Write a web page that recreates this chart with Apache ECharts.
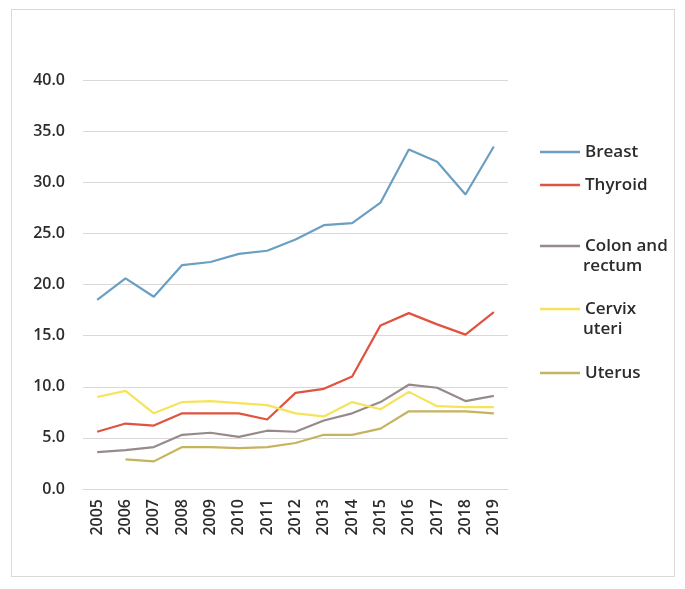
<!DOCTYPE html>
<html>
<head>
<meta charset="utf-8">
<style>
  html, body { margin: 0; padding: 0; background: #fff; }
  #frame {
    position: absolute; left: 11px; top: 9px; width: 664px; height: 568px;
    border: 1px solid #d9d9d9; box-sizing: border-box;
  }
  #chart { position: absolute; left: 0; top: 0; width: 685px; height: 589px; }
</style>
<script src="https://cdn.jsdelivr.net/npm/echarts@6/dist/echarts.min.js"></script>
</head>
<body>
<div id="frame"></div>
<div id="chart"></div>
<script>
const years = ["2005", "2006", "2007", "2008", "2009", "2010", "2011", "2012",
  "2013", "2014", "2015", "2016", "2017", "2018", "2019"];

const breast = [18.5, 20.6, 18.8, 21.9, 22.2, 23.0, 23.3, 24.4, 25.8, 26.0, 28.0, 33.2, 32.0, 28.8, 33.5];
const thyroid = [5.6, 6.4, 6.2, 7.4, 7.4, 7.4, 6.8, 9.4, 9.8, 11.0, 16.0, 17.2, 16.1, 15.1, 17.3];
const colon = [3.6, 3.8, 4.1, 5.3, 5.5, 5.1, 5.7, 5.6, 6.7, 7.4, 8.5, 10.2, 9.9, 8.6, 9.1];
const cervix = [9.0, 9.6, 7.4, 8.5, 8.6, 8.4, 8.2, 7.4, 7.1, 8.5, 7.8, 9.5, 8.1, 8.0, 8.0];
const uterus = [null, 2.9, 2.7, 4.1, 4.1, 4.0, 4.1, 4.5, 5.3, 5.3, 5.9, 7.6, 7.6, 7.6, 7.4];

const yTicks = [0, 5, 10, 15, 20, 25, 30, 35, 40];

const seriesList = [
  { name: "Breast", lines: ["Breast"], data: breast, color: "#6a9fc2" },
  { name: "Thyroid", lines: ["Thyroid"], data: thyroid, color: "#e0533f" },
  { name: "Colon and rectum", lines: ["Colon and", "rectum"], data: colon, color: "#978a8a" },
  { name: "Cervix uteri", lines: ["Cervix", "uteri"], data: cervix, color: "#f7e35a" },
  { name: "Uterus", lines: ["Uterus"], data: uterus, color: "#c6b35e" },
];
// vertical centre of each legend entry's first line
const legendRows = [152, 185, 246, 309, 373];
const lineStep = 20;

const labelFont = { fontFamily: "Open Sans", fontSize: 16, fontWeight: 600, color: "#2b2b2b" };

const chart = echarts.init(document.getElementById("chart"));

chart.setOption({
  animation: false,
  grid: { left: 83, right: 177, top: 80, bottom: 100 },
  legend: seriesList.map((s, i) => ({
    data: [s.name],
    left: 540,
    top: legendRows[i] - 11,
    padding: 0,
    icon: "rect",
    itemWidth: 40,
    itemHeight: 2.5,
    itemGap: 3,
    formatter: () => s.lines[0],
    textStyle: Object.assign({}, labelFont, { fontSize: 17, lineHeight: 22 }),
    selectedMode: false,
  })),
  graphic: seriesList.filter((s) => s.lines.length > 1).map((s) => ({
    type: "text",
    left: 583,
    top: legendRows[seriesList.indexOf(s)] + lineStep - 11,
    style: Object.assign({}, labelFont, {
      text: s.lines[1], fontSize: 17, fill: labelFont.color, lineHeight: 22,
    }),
  })),
  xAxis: {
    type: "category",
    data: years,
    boundaryGap: true,
    axisLine: { show: true, lineStyle: { color: "#d9d9d9", width: 1 } },
    axisTick: { show: false },
    axisLabel: Object.assign({}, labelFont, { rotate: 90, margin: 10 }),
  },
  yAxis: {
    type: "value",
    min: yTicks[0],
    max: yTicks[yTicks.length - 1],
    interval: 5,
    axisLine: { show: false },
    axisTick: { show: false },
    splitLine: { lineStyle: { color: "#d9d9d9", width: 1 } },
    axisLabel: Object.assign({}, labelFont, {
      margin: 18,
      formatter: (v) => v.toFixed(1),
    }),
  },
  series: seriesList.map((s) => ({
    name: s.name,
    type: "line",
    data: s.data,
    symbol: "none",
    color: s.color,
    lineStyle: { width: 2.2, color: s.color },
  })),
});
</script>
</body>
</html>
